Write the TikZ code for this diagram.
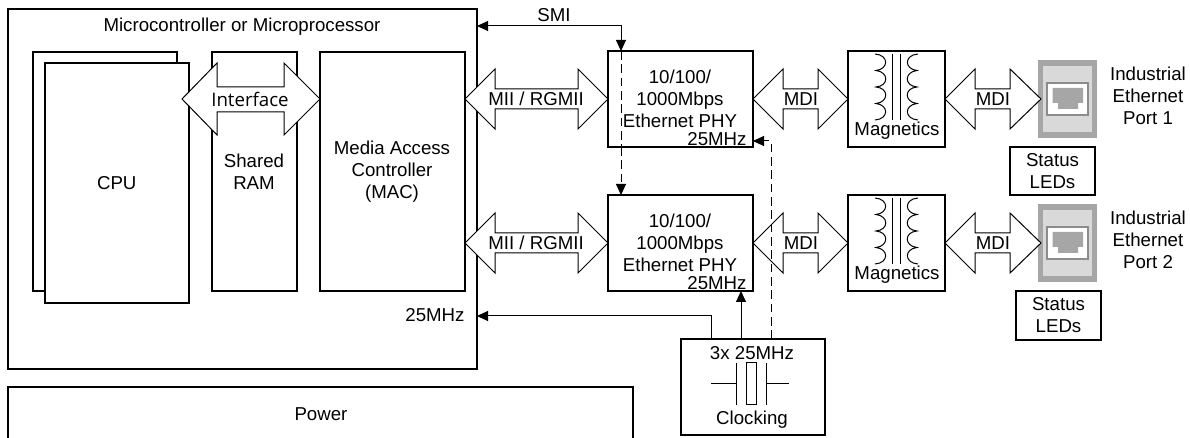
\documentclass[tikz,border=0pt]{standalone}
\usepackage{fontspec}
\setmainfont{Liberation Sans}
\newfontfamily\ifont{Open Sans}
\usetikzlibrary{arrows.meta,positioning}
\definecolor{portdark}{HTML}{A6A6A6}
\definecolor{portlight}{HTML}{D9D9D9}
\definecolor{jackedge}{HTML}{8C8C8C}
\newcommand{\fsz}{\fontsize{14}{16.5}\selectfont}
\tikzset{
  stdbox/.style={draw=black,line width=1.5pt,fill=white,inner sep=0pt,outer sep=0pt,align=center,font=\fsz,line join=miter},
  bw/.style={minimum width=#1*0.75pt},
  bh/.style={minimum height=#1*0.75pt},
  lbl/.style={inner sep=0pt,outer sep=0pt,align=center,font=\fsz},
  biglink/.style={draw=black,line width=0.75pt,fill=white,line join=miter},
  thin link/.style={draw=black,line width=0.75pt},
  tip/.tip={Triangle[length=8.25pt,width=7.5pt]},
  ddash/.style={dash pattern=on 6.5pt off 3.5pt},
  part/.style={draw=black,line width=0.75pt}
}
% xl xb1 xb2 xr yc
\newcommand{\dblarrow}[5]{%
  \draw[biglink] (#1,#5) -- (#2,#5-30) -- (#2,#5-10) -- (#3,#5-10) -- (#3,#5-30) -- (#4,#5)
     -- (#3,#5+30) -- (#3,#5+10) -- (#2,#5+10) -- (#2,#5+30) -- cycle;}
\newcommand{\magcoils}[1]{%
  \begin{scope}[yshift=#1*-0.75pt]
  \draw[part] (875,54) .. controls (889,55) and (889,69) .. (876,70.5)
     .. controls (889,72) and (889,86) .. (876,87)
     .. controls (889,88) and (889,102) .. (876,103.5)
     .. controls (889,105) and (889,119) .. (875,120);
  \draw[part] (918,54) .. controls (904,55) and (904,69) .. (917,70.5)
     .. controls (904,72) and (904,86) .. (917,87)
     .. controls (904,88) and (904,102) .. (917,103.5)
     .. controls (904,105) and (904,119) .. (918,120);
  \draw[part] (892,54) -- (892,120);
  \draw[part] (900.5,54) -- (900.5,120);
  \end{scope}}
\newcommand{\rjport}[1]{%
  \begin{scope}[yshift=#1*-0.75pt]
  \fill[portdark] (1037.5,60.5) rectangle (1097,138);
  \fill[portlight] (1043,66) rectangle (1092,132);
  \draw[fill=white,draw=jackedge,line width=1.5pt] (1047,83.5) rectangle (1088,115);
  \fill[portdark] (1052.5,88) -- (1083,88) -- (1083,103) -- (1078,103) -- (1078,109) -- (1058,109) -- (1058,103) -- (1052.5,103) -- cycle;
  \end{scope}}
\begin{document}
\begin{tikzpicture}[x=0.75pt,y=-0.75pt]
\useasboundingbox (0,0) rectangle (1190,438);
% main blocks
\node[stdbox,bw=469,bh=360] (main) at (242.5,189) {};
\node[lbl] (mainlbl) at (242,26.5) {Microcontroller or Microprocessor};
\node[stdbox,bw=144,bh=239] (cpuback) at (105,171.5) {};
\node[stdbox,bw=144.5,bh=240] (cpu) at (116.75,183) {CPU};
\node[stdbox,bw=85,bh=239] (ram) at (254.5,171.5) {};
\node[lbl] (ramlbl) at (254,172) {Shared\\RAM};
\node[stdbox,bw=145,bh=239] (mac) at (392.5,171.5) {};
\node[lbl] (maclbl) at (392,172) {Media Access\\Controller\\(MAC)};
% big links
\draw[biglink] (182,99) -- (217,63) -- (217,87) -- (284,87) -- (284,63) -- (320,99) -- (284,135) -- (284,112) -- (217,112) -- (217,135) -- cycle;
\node[lbl,font=\ifont\fontsize{14}{16}\selectfont] (iflbl) at (250,99) {Interface};
\dblarrow{465}{495}{578}{608}{99}
\dblarrow{465}{495}{578}{608}{243}
\node[lbl] (miiA) at (536,99) {MII / RGMII};
\node[lbl] (miiB) at (536,243) {MII / RGMII};
% PHYs
\node[stdbox,bw=145,bh=96] (phyA) at (680.5,99) {};
\node[stdbox,bw=145,bh=96] (phyB) at (680.5,243) {};
\node[lbl] (phyAt) at (680,98.5) {10/100/\\1000Mbps\\Ethernet PHY};
\node[lbl] (phyBt) at (680,242.5) {10/100/\\1000Mbps\\Ethernet PHY};
\node[lbl] (phyAc) at (717,139.5) {25MHz};
\node[lbl] (phyBc) at (717,283.5) {25MHz};
% MDI
\dblarrow{753}{783}{818}{848}{99}
\dblarrow{753}{783}{818}{848}{243}
\node[lbl] (mdiA) at (801,99) {MDI};
\node[lbl] (mdiB) at (801,243) {MDI};
% magnetics
\node[stdbox,bw=97,bh=96] (magA) at (896.5,99) {};
\node[stdbox,bw=97,bh=96] (magB) at (896.5,243) {};
\magcoils{0}
\magcoils{144}
\node[lbl] (magAt) at (897,130.5) {Magnetics};
\node[lbl] (magBt) at (897,274.5) {Magnetics};
% ports
\rjport{0}
\rjport{144}
\dblarrow{945}{975}{1010}{1041}{99}
\dblarrow{945}{975}{1010}{1041}{243}
\node[lbl] (mdiC) at (993,99) {MDI};
\node[lbl] (mdiD) at (993,243) {MDI};
\node[lbl] (portA) at (1148,96) {Industrial\\Ethernet\\Port 1};
\node[lbl] (portB) at (1148,240) {Industrial\\Ethernet\\Port 2};
\node[stdbox,bw=85,bh=48] (ledA) at (1052.5,171) {Status\\LEDs};
\node[stdbox,bw=85,bh=49] (ledB) at (1058.5,315.5) {Status\\LEDs};
% clocking
\node[stdbox,bw=144,bh=96] (clk) at (753,387) {};
\node[lbl] (clkA) at (752,353) {3x 25MHz};
\node[lbl] (clkB) at (752,419.5) {Clocking};
\coordinate (xl) at (711,384);
\coordinate (xr) at (789,384);
\draw[part] (xl) -- (736,384) (766,384) -- (xr);
\draw[part] (736,363) -- (736,405) (766,363) -- (766,405);
\draw[part] (746,363) rectangle (756,405);
% power (open at the bottom)
\draw[line width=1.5pt] (8,439) -- (8,387) -- (633,387) -- (633,439);
\node[lbl] (power) at (321,414) {Power};
\node[lbl] (mainclk) at (435,315) {25MHz};
\node[lbl] (smi) at (554,15) {SMI};
% connectors
\coordinate (smic) at (621,26);
\draw[thin link,{tip}-{tip}] (main.east |- smic) -- (smic) -- (smic |- phyA.north);
\draw[thin link,ddash] (smic |- phyA.north) -- (smic |- phyA.south);
\draw[thin link,ddash,-{tip}] (smic |- phyA.south) -- (smic |- phyB.north);
\coordinate (clkd) at (771,141);
\draw[thin link,ddash,-{tip}] (clkd |- clk.north) -- (clkd) -- (clkd -| phyA.east);
\coordinate (clkb) at (741,339);
\draw[thin link,-{tip}] (clkb) -- (clkb |- phyB.south);
\coordinate (clkm) at (711,316);
\draw[thin link,-{tip}] (clkm |- clk.north) -- (clkm) -- (clkm -| main.east);
\end{tikzpicture}
\end{document}
